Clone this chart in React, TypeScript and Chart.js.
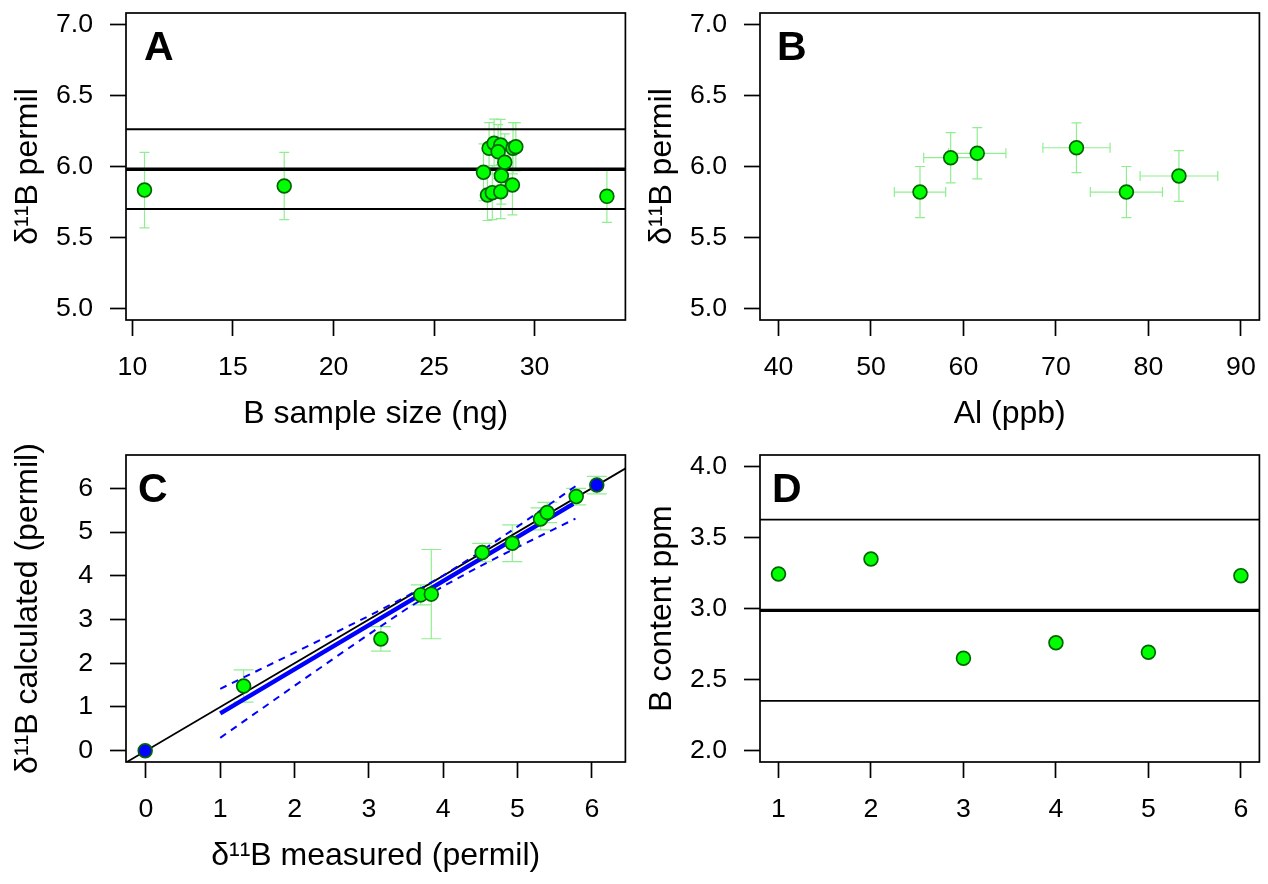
import React, { useEffect, useRef } from "react";
import { Chart, registerables } from "chart.js";

Chart.register(...registerables);

const FONT = "'Liberation Sans', Arial, Helvetica, sans-serif";
const GREEN = "#00ff00";
const BLUE = "#0000ff";
const DARKGREEN = "#006400";
const ERR = "#90ee90";

// ---------- Panel A : d11B vs B sample size ----------
const aSampleSize = [10.6, 17.55, 33.6, 27.46, 27.74, 27.99, 28.32, 28.19, 28.93, 29.07, 28.52, 28.35, 28.9, 27.66, 27.9, 28.32];
const aDelta = [5.834, 5.863, 5.79, 5.959, 6.128, 6.163, 6.151, 6.104, 6.128, 6.139, 6.03, 5.935, 5.87, 5.8, 5.816, 5.823];
const aDeltaErr = [0.266, 0.237, 0.183, 0.2, 0.18, 0.17, 0.18, 0.19, 0.18, 0.17, 0.2, 0.2, 0.21, 0.18, 0.19, 0.19];
const aRefLines = [6.262, 5.981, 5.701];
const aRefWidths = [1.8, 3.4, 1.8];
const aXRange = [9.68, 34.52];
const aXTicks = [10, 15, 20, 25, 30];
const aXLabels = ["10", "15", "20", "25", "30"];
const deltaYRange = [4.92, 7.08];
const deltaYTicks = [5, 5.5, 6, 6.5, 7];
const deltaYLabels = ["5.0", "5.5", "6.0", "6.5", "7.0"];

// ---------- Panel B : d11B vs Al ----------
const bAl = [55.3, 58.62, 61.49, 72.22, 77.62, 83.3];
const bAlErr = [2.78, 2.92, 3.1, 3.63, 3.9, 4.2];
const bDelta = [5.82, 6.062, 6.093, 6.132, 5.82, 5.933];
const bDeltaErr = [0.18, 0.177, 0.18, 0.175, 0.18, 0.178];
const bXRange = [38, 92];
const bXTicks = [40, 50, 60, 70, 80, 90];
const bXLabels = ["40", "50", "60", "70", "80", "90"];

// ---------- Panel C : calculated vs measured ----------
const cMeasured = [-0.01, 1.315, 3.162, 3.698, 3.84, 4.525, 4.93, 5.31, 5.4, 5.79, 6.067];
const cCalculated = [0.0, 1.48, 2.556, 3.563, 3.58, 4.53, 4.745, 5.3, 5.446, 5.81, 6.073];
const cCalcErr = [0, 0.37, 0.28, 0.23, 1.02, 0.21, 0.42, 0.25, 0.23, 0.19, 0.2];
const cIsStandard = [true, false, false, false, false, false, false, false, false, false, true];
const cFitX = [1, 5.75];
const cFitY = [0.855, 5.645];
const cBandX = [1, 1.5, 2, 2.5, 3, 3.5, 4, 4.5, 5, 5.5, 5.78];
const cBandUpper = [1.415, 1.828, 2.243, 2.659, 3.082, 3.52, 4.002, 4.548, 5.125, 5.714, 6.046];
const cBandLower = [0.295, 0.89, 1.485, 2.077, 2.662, 3.234, 3.76, 4.222, 4.653, 5.072, 5.306];
const cXRange = [-0.268, 6.452];
const cYRange = [-0.258, 6.761];
const cTicks = [0, 1, 2, 3, 4, 5, 6];
const cLabels = ["0", "1", "2", "3", "4", "5", "6"];

// ---------- Panel D : B content ----------
const dSample = [1, 2, 3, 4, 5, 6];
const dContent = [3.243, 3.348, 2.65, 2.759, 2.692, 3.231];
const dRefLines = [3.625, 2.987, 2.35];
const dRefWidths = [1.8, 3.4, 1.8];
const dXRange = [0.8, 6.2];
const dYRange = [1.92, 4.08];
const dXTicks = [1, 2, 3, 4, 5, 6];
const dXLabels = ["1", "2", "3", "4", "5", "6"];
const dYTicks = [2, 2.5, 3, 3.5, 4];
const dYLabels = ["2.0", "2.5", "3.0", "3.5", "4.0"];

// ---------- layout ----------
const PANEL_W = 634;
const PANEL_H = 442;
const BOX_LEFT = 126;
const BOX_TOP = 13;
const BOX_RIGHT_PAD = 7;
const XAXIS_H = 122;
const TICK_FONT = 26.7;
const TITLE_FONT = 32;

const errorBarPlugin = {
  id: "errorBars",
  beforeDatasetsDraw(chart: any) {
    const { ctx, chartArea: a } = chart;
    const xs = chart.scales.x;
    const ys = chart.scales.y;
    ctx.save();
    ctx.beginPath();
    ctx.rect(a.left, a.top, a.right - a.left, a.bottom - a.top);
    ctx.clip();
    chart.data.datasets.forEach((ds: any) => {
      if (!ds.errY && !ds.errX) return;
      ctx.strokeStyle = ds.errColor || ERR;
      ctx.lineWidth = ds.errWidth || 1.2;
      const cap = ds.errCap || 10;
      ds.data.forEach((p: any, i: number) => {
        const px = xs.getPixelForValue(p.x);
        const py = ys.getPixelForValue(p.y);
        ctx.beginPath();
        const ey = ds.errY ? ds.errY[i] : 0;
        if (ey) {
          const t = ys.getPixelForValue(p.y + ey);
          const b = ys.getPixelForValue(p.y - ey);
          ctx.moveTo(px, t); ctx.lineTo(px, b);
          ctx.moveTo(px - cap / 2, t); ctx.lineTo(px + cap / 2, t);
          ctx.moveTo(px - cap / 2, b); ctx.lineTo(px + cap / 2, b);
        }
        const ex = ds.errX ? ds.errX[i] : 0;
        if (ex) {
          const l = xs.getPixelForValue(p.x - ex);
          const r = xs.getPixelForValue(p.x + ex);
          ctx.moveTo(l, py); ctx.lineTo(r, py);
          ctx.moveTo(l, py - cap / 2); ctx.lineTo(l, py + cap / 2);
          ctx.moveTo(r, py - cap / 2); ctx.lineTo(r, py + cap / 2);
        }
        ctx.stroke();
      });
    });
    ctx.restore();
  },
};

const decorPlugin = {
  id: "decor",
  afterDatasetsDraw(chart: any, _args: any, opts: any) {
    const { ctx, chartArea: a } = chart;
    ctx.save();
    ctx.strokeStyle = "#000";
    ctx.lineWidth = 1.7;
    ctx.strokeRect(a.left, a.top, a.right - a.left, a.bottom - a.top);
    ctx.fillStyle = "#000";
    ctx.font = `bold 41px ${FONT}`;
    ctx.textAlign = "left";
    ctx.textBaseline = "alphabetic";
    ctx.fillText(opts.letter, a.left + opts.dx, a.top + opts.dy);
    ctx.restore();
  },
};

function axis(kind: "x" | "y", range: number[], ticks: number[], labels: string[], title: string) {
  const common: any = {
    type: "linear",
    min: range[0],
    max: range[1],
    afterBuildTicks: (s: any) => {
      s.ticks = ticks.map((v) => ({ value: v }));
    },
    ticks: {
      autoSkip: false,
      maxRotation: 0,
      minRotation: 0,
      color: "#000",
      font: { size: TICK_FONT, family: FONT },
      callback: (_v: any, i: number) => labels[i],
    },
    grid: {
      display: true,
      drawOnChartArea: false,
      drawTicks: true,
      tickLength: 16,
      tickWidth: 1.7,
      tickColor: "#000",
    },
    border: { display: false },
    title: {
      display: !!title,
      text: title,
      color: "#000",
      font: { size: TITLE_FONT, family: FONT },
    },
  };
  if (kind === "x") {
    common.position = "bottom";
    common.afterFit = (s: any) => {
      s.height = XAXIS_H;
      s.paddingLeft = 0;
      s.paddingRight = 0;
    };
    common.ticks.padding = 16;
    common.title.padding = { top: 0, bottom: 8.3 };
  } else {
    common.position = "left";
    common.afterFit = (s: any) => {
      s.width = BOX_LEFT;
      s.paddingTop = 0;
      s.paddingBottom = 0;
    };
    common.ticks.padding = 17;
    common.title.padding = { top: 9.3, bottom: 0 };
  }
  return common;
}

function pointsOf(xs: number[], ys: number[]) {
  return xs.map((x, i) => ({ x, y: ys[i] }));
}

function lineDataset(xs: number[], ys: number[], color: string, width: number, dash: number[] = []) {
  return {
    data: pointsOf(xs, ys),
    showLine: true,
    borderColor: color,
    borderWidth: width,
    borderDash: dash,
    pointRadius: 0,
    fill: false,
    order: 5,
  };
}

function baseOptions(letter: string, dx: number, dy: number, scales: any) {
  return {
    responsive: false,
    animation: false,
    events: [],
    layout: { padding: { top: BOX_TOP, right: BOX_RIGHT_PAD, left: 0, bottom: 0 } },
    plugins: {
      legend: { display: false },
      tooltip: { enabled: false },
      decor: { letter, dx, dy },
    },
    scales,
  };
}

const pointStyle = {
  pointRadius: 6.9,
  pointBorderColor: DARKGREEN,
  pointBorderWidth: 1.7,
  showLine: false,
  order: 0,
};

function configA(): any {
  return {
    type: "scatter",
    data: {
      datasets: [
        {
          ...pointStyle,
          data: pointsOf(aSampleSize, aDelta),
          pointBackgroundColor: GREEN,
          errY: aDeltaErr,
          errCap: 10,
        },
        ...aRefLines.map((v, i) => lineDataset(aXRange, [v, v], "#000", aRefWidths[i])),
      ],
    },
    options: baseOptions("A", 18, 47, {
      x: axis("x", aXRange, aXTicks, aXLabels, "B sample size (ng)"),
      y: axis("y", deltaYRange, deltaYTicks, deltaYLabels, "δ¹¹B permil"),
    }),
    plugins: [errorBarPlugin, decorPlugin],
  };
}

function configB(): any {
  return {
    type: "scatter",
    data: {
      datasets: [
        {
          ...pointStyle,
          data: pointsOf(bAl, bDelta),
          pointBackgroundColor: GREEN,
          errY: bDeltaErr,
          errX: bAlErr,
          errCap: 10,
        },
      ],
    },
    options: baseOptions("B", 17, 47, {
      x: axis("x", bXRange, bXTicks, bXLabels, "Al (ppb)"),
      y: axis("y", deltaYRange, deltaYTicks, deltaYLabels, "δ¹¹B permil"),
    }),
    plugins: [errorBarPlugin, decorPlugin],
  };
}

function configC(): any {
  return {
    type: "scatter",
    data: {
      datasets: [
        {
          ...pointStyle,
          data: pointsOf(cMeasured, cCalculated),
          pointBackgroundColor: cIsStandard.map((s) => (s ? BLUE : GREEN)),
          errY: cCalcErr,
          errCap: 20,
        },
        lineDataset(cFitX, cFitY, BLUE, 4.5),
        lineDataset(cBandX, cBandUpper, BLUE, 2, [7, 6]),
        lineDataset(cBandX, cBandLower, BLUE, 2, [7, 6]),
        lineDataset([-1, 8], [-1, 8], "#000", 1.8),
      ],
    },
    options: baseOptions("C", 12, 47, {
      x: axis("x", cXRange, cTicks, cLabels, "δ¹¹B measured (permil)"),
      y: axis("y", cYRange, cTicks, cLabels, "δ¹¹B calculated (permil)"),
    }),
    plugins: [errorBarPlugin, decorPlugin],
  };
}

function configD(): any {
  return {
    type: "scatter",
    data: {
      datasets: [
        {
          ...pointStyle,
          data: pointsOf(dSample, dContent),
          pointBackgroundColor: GREEN,
        },
        ...dRefLines.map((v, i) => lineDataset(dXRange, [v, v], "#000", dRefWidths[i])),
      ],
    },
    options: baseOptions("D", 12, 47, {
      x: axis("x", dXRange, dXTicks, dXLabels, ""),
      y: axis("y", dYRange, dYTicks, dYLabels, "B content ppm"),
    }),
    plugins: [errorBarPlugin, decorPlugin],
  };
}

function Panel({ left, top, build }: { left: number; top: number; build: () => any }) {
  const ref = useRef<HTMLCanvasElement>(null);
  useEffect(() => {
    const chart = new Chart(ref.current as HTMLCanvasElement, build());
    return () => chart.destroy();
  }, [build]);
  return (
    <canvas
      ref={ref}
      width={PANEL_W}
      height={PANEL_H}
      style={{ position: "absolute", left, top, width: PANEL_W, height: PANEL_H }}
    />
  );
}

export default function App() {
  return (
    <div style={{ position: "absolute", left: 0, top: 0, width: 1268, height: 884, background: "#fff" }}>
      <Panel left={0} top={0} build={configA} />
      <Panel left={PANEL_W} top={0} build={configB} />
      <Panel left={0} top={PANEL_H} build={configC} />
      <Panel left={PANEL_W} top={PANEL_H} build={configD} />
    </div>
  );
}
